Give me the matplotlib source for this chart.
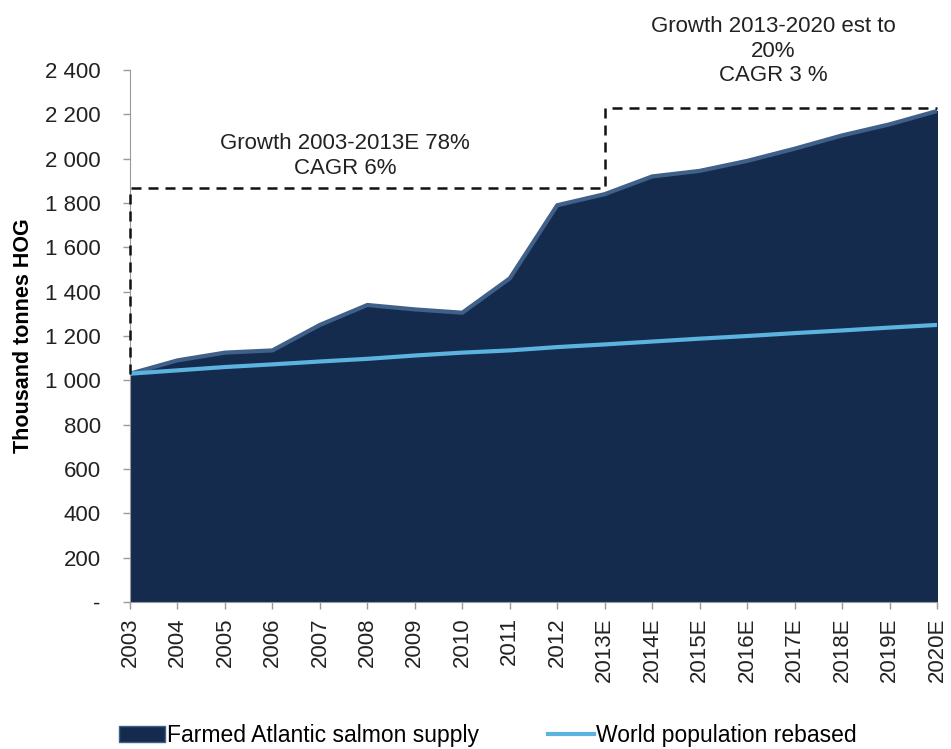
import numpy as np
import matplotlib.pyplot as plt
from matplotlib.ticker import FuncFormatter
from matplotlib.patches import Patch
from matplotlib.lines import Line2D

plt.rcParams['font.family'] = ['Liberation Sans', 'DejaVu Sans']

# data
years = ['2003', '2004', '2005', '2006', '2007', '2008', '2009', '2010', '2011',
         '2012', '2013E', '2014E', '2015E', '2016E', '2017E', '2018E', '2019E', '2020E']
salmon = [1030, 1090, 1125, 1135, 1250, 1340, 1320, 1305, 1460,
          1790, 1840, 1920, 1945, 1990, 2045, 2105, 2155, 2215]
population = [1030, 1045, 1060, 1072, 1085, 1097, 1112, 1125, 1135,
              1150, 1162, 1175, 1188, 1200, 1213, 1225, 1238, 1250]
box1_top = 1870
box2_top = 2230

x = np.arange(len(years))

fig = plt.figure(figsize=(9.51, 7.49), dpi=100)
ax = fig.add_axes([0.1367, 0.1963, 0.8486, 0.7102])

ax.fill_between(x, 0, salmon, color='#142b4e', zorder=1)
ax.plot(x, salmon, color='#3f6088', lw=3, zorder=2)
ax.plot(x, population, color='#5cb3e0', lw=3, zorder=3)

# dashed growth boxes
i13 = years.index('2013E')
ax.plot([0, 0, i13, i13, x[-1]], [salmon[0], box1_top, box1_top, box2_top, box2_top],
        color='#111111', lw=1.8, ls=(0, (4, 2.8)), zorder=4, clip_on=False)

ax.text(4.53, 2012, 'Growth 2003-2013E 78%\nCAGR 6%', ha='center', va='center',
        fontsize=16, color='#222222', linespacing=1.2)
ax.text(13.55, 2485, 'Growth 2013-2020 est to\n20%\nCAGR 3 %', ha='center', va='center',
        fontsize=16, color='#222222', linespacing=1.2, clip_on=False)

ax.set_xlim(0, x[-1])
ax.set_ylim(0, 2400)
ax.set_yticks(np.arange(0, 2401, 200))
ax.yaxis.set_major_formatter(FuncFormatter(
    lambda v, p: '-' if v == 0 else f'{int(v):,}'.replace(',', ' ')))
ax.set_xticks(x)
ax.set_xticklabels(years, rotation=90)
ax.tick_params(axis='both', labelsize=16, labelcolor='#222222', color='#999999',
               length=5, width=1)
ax.tick_params(axis='y', pad=16)
ax.tick_params(axis='x', pad=6)
ax.set_ylabel('Thousand tonnes HOG', fontsize=15.5, fontweight='bold', labelpad=8)

for s in ['top', 'right']:
    ax.spines[s].set_visible(False)
for s in ['left', 'bottom']:
    ax.spines[s].set_color('#999999')

handles = [Patch(facecolor='#142b4e', edgecolor='#3f6088', label='Farmed Atlantic salmon supply'),
           Line2D([0], [0], color='#5cb3e0', lw=3, label='World population rebased')]
fig.legend(handles=handles, loc='center', bbox_to_anchor=(0.513, 0.018), ncol=2,
           frameon=False, fontsize=16.5, handlelength=2.0, handletextpad=0.1,
           columnspacing=3.0)

fig.savefig('out.png', dpi=100)
